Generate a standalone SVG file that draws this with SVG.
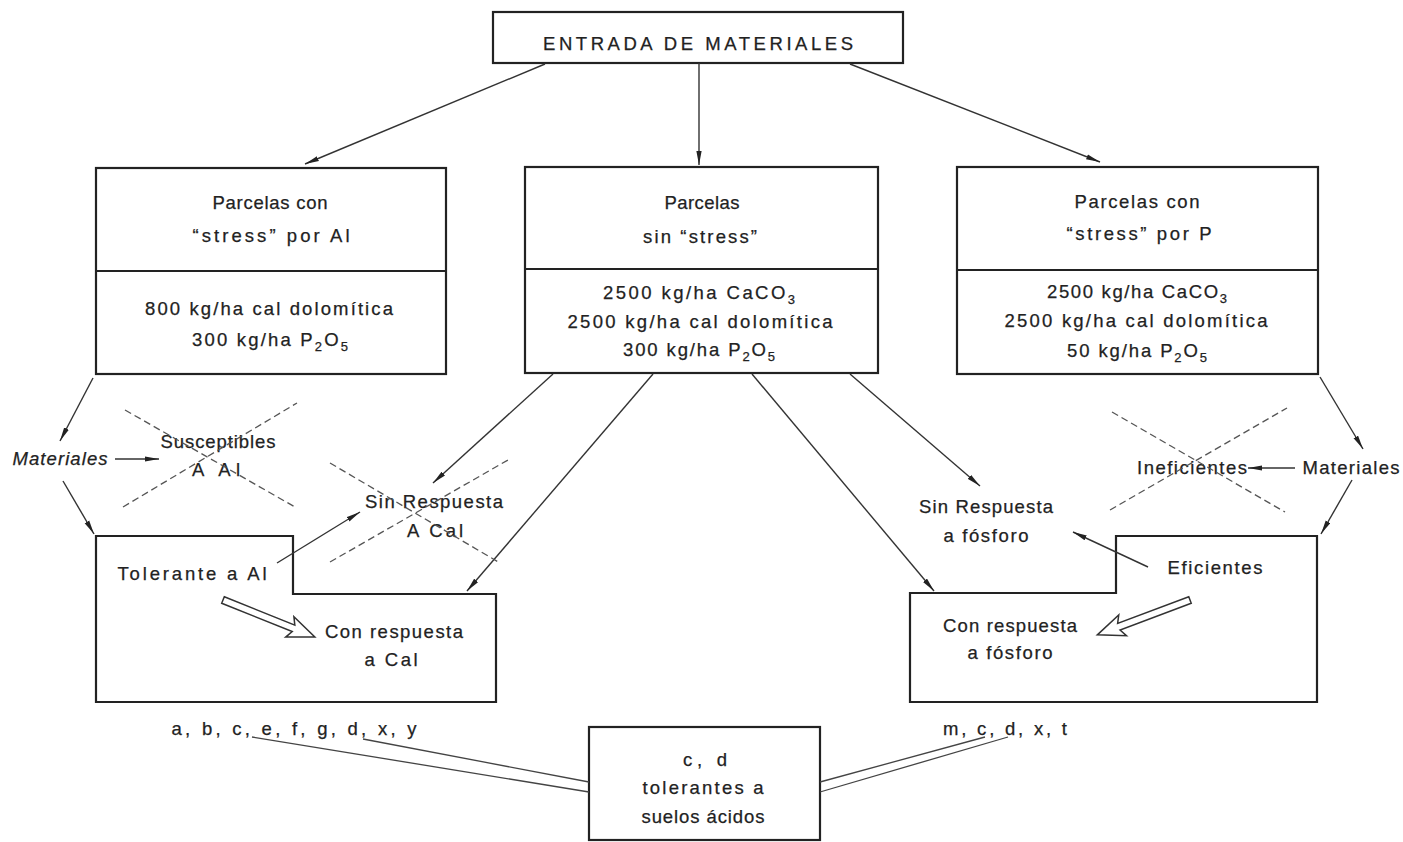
<svg xmlns="http://www.w3.org/2000/svg" width="1403" height="842" viewBox="0 0 1403 842">
<style>
.box{fill:#fff;stroke:#222;stroke-width:2.2}
.div{stroke:#222;stroke-width:2}
.t{font-family:"Liberation Sans",Arial,sans-serif;font-size:18.5px;fill:#222;text-anchor:middle;stroke:#222;stroke-width:0.25}
.ti{font-style:italic}
.c{stroke:#333;stroke-width:1.4;fill:none;marker-end:url(#ah)}
.d{stroke:#555;stroke-width:1.3;stroke-dasharray:7,4;fill:none}
.dl{stroke:#444;stroke-width:1.3;fill:none}
.ha{fill:#fff;stroke:#333;stroke-width:1.5}
.sub{font-size:13px}
</style>
<defs>
<marker id="ah" viewBox="0 0 14 6" refX="14" refY="3" markerWidth="14" markerHeight="6" markerUnits="userSpaceOnUse" orient="auto">
<path d="M0,0.4 L14,3 L0,5.6 Z" fill="#222"/>
</marker>
</defs>
<rect width="1403" height="842" fill="#fff"/>

<g id="entrada">
<rect class="box" x="493" y="12" width="410" height="51"/>
<text class="t" x="698" y="50" font-size="17.5" textLength="310" lengthAdjust="spacing">ENTRADA DE MATERIALES</text>
</g>

<g id="parcelas-al">
<rect class="box" x="96" y="168" width="350" height="206"/>
<line class="div" x1="96" y1="271" x2="446" y2="271"/>
<text class="t" x="270" y="209" textLength="115" lengthAdjust="spacing">Parcelas con</text>
<text class="t" x="271" y="242" textLength="157" lengthAdjust="spacing">“stress”  por  Al</text>
<text class="t" x="269" y="315" textLength="248" lengthAdjust="spacing">800 kg/ha  cal  dolomítica</text>
<text class="t" x="270" y="346" textLength="156" lengthAdjust="spacing">300 kg/ha  P<tspan class="sub" dy="5">2</tspan><tspan dy="-5">O</tspan><tspan class="sub" dy="5">5</tspan></text>
</g>

<g id="parcelas-sin">
<rect class="box" x="525" y="167" width="353" height="206"/>
<line class="div" x1="525" y1="269" x2="878" y2="269"/>
<text class="t" x="702" y="209" textLength="75" lengthAdjust="spacing">Parcelas</text>
<text class="t" x="700" y="243" textLength="114" lengthAdjust="spacing">sin  “stress”</text>
<text class="t" x="699" y="299" textLength="192" lengthAdjust="spacing">2500  kg/ha  CaCO<tspan class="sub" dy="5">3</tspan></text>
<text class="t" x="700" y="328" textLength="265" lengthAdjust="spacing">2500 kg/ha  cal  dolomítica</text>
<text class="t" x="699" y="356" textLength="152" lengthAdjust="spacing">300 kg/ha P<tspan class="sub" dy="5">2</tspan><tspan dy="-5">O</tspan><tspan class="sub" dy="5">5</tspan></text>
</g>

<g id="parcelas-p">
<rect class="box" x="957" y="167" width="361" height="207"/>
<line class="div" x1="957" y1="270" x2="1318" y2="270"/>
<text class="t" x="1137" y="208" textLength="125" lengthAdjust="spacing">Parcelas  con</text>
<text class="t" x="1139" y="240" textLength="145" lengthAdjust="spacing">“stress”  por  P</text>
<text class="t" x="1137" y="298" textLength="180" lengthAdjust="spacing">2500 kg/ha CaCO<tspan class="sub" dy="5">3</tspan></text>
<text class="t" x="1136" y="327" textLength="263" lengthAdjust="spacing">2500 kg/ha  cal  dolomítica</text>
<text class="t" x="1137" y="357" textLength="140" lengthAdjust="spacing">50 kg/ha P<tspan class="sub" dy="5">2</tspan><tspan dy="-5">O</tspan><tspan class="sub" dy="5">5</tspan></text>
</g>

<g id="materiales-izq">
<text class="t ti" x="60" y="465" textLength="95" lengthAdjust="spacing">Materiales</text>
</g>
<g id="susceptibles">
<text class="t" x="218" y="448" textLength="115" lengthAdjust="spacing">Susceptibles</text>
<text class="t" x="216" y="476" textLength="48" lengthAdjust="spacing">A  Al</text>
</g>
<g id="sin-respuesta-cal">
<text class="t" x="434" y="508" textLength="138" lengthAdjust="spacing">Sin  Respuesta</text>
<text class="t" x="435" y="537" textLength="56" lengthAdjust="spacing">A  Cal</text>
</g>
<g id="tolerante">
<path class="box" d="M96,536 H293 V594 H496 V702 H96 Z"/>
<text class="t" x="192" y="580" textLength="149" lengthAdjust="spacing">Tolerante  a  Al</text>
<text class="t" x="394" y="638" textLength="138" lengthAdjust="spacing">Con  respuesta</text>
<text class="t" x="391" y="666" textLength="53" lengthAdjust="spacing">a  Cal</text>
</g>

<g id="ineficientes">
<text class="t" x="1192" y="474" textLength="110" lengthAdjust="spacing">Ineficientes</text>
</g>
<g id="materiales-der">
<text class="t" x="1351" y="474" textLength="97" lengthAdjust="spacing">Materiales</text>
</g>
<g id="sin-respuesta-p">
<text class="t" x="986" y="513" textLength="134" lengthAdjust="spacing">Sin Respuesta</text>
<text class="t" x="986" y="542" textLength="85" lengthAdjust="spacing">a fósforo</text>
</g>
<g id="eficientes">
<path class="box" d="M910,593 H1116 V536 H1317 V702 H910 Z"/>
<text class="t" x="1215" y="574" textLength="95" lengthAdjust="spacing">Eficientes</text>
<text class="t" x="1010" y="632" textLength="134" lengthAdjust="spacing">Con respuesta</text>
<text class="t" x="1010" y="659" textLength="85" lengthAdjust="spacing">a fósforo</text>
</g>

<g id="lista-cal">
<text class="t" x="294" y="735" textLength="245" lengthAdjust="spacing">a,  b,  c,  e,  f,  g,  d,  x,  y</text>
</g>
<g id="lista-p">
<text class="t" x="1005" y="735" textLength="124" lengthAdjust="spacing">m,  c,  d, x, t</text>
</g>
<g id="tolerantes-acidos">
<rect class="box" x="589" y="727" width="231" height="113"/>
<text class="t" x="705" y="766" textLength="44" lengthAdjust="spacing">c,  d</text>
<text class="t" x="703" y="794" textLength="121" lengthAdjust="spacing">tolerantes  a</text>
<text class="t" x="703" y="823" textLength="123" lengthAdjust="spacing">suelos ácidos</text>
</g>

<g id="connectors">
<line class="c" x1="545" y1="64" x2="305" y2="164"/>
<line class="c" x1="699" y1="63" x2="699" y2="165"/>
<line class="c" x1="850" y1="64" x2="1100" y2="162"/>
<line class="c" x1="93" y1="378" x2="60" y2="441"/>
<line class="c" x1="115" y1="459" x2="159" y2="459"/>
<line class="c" x1="63" y1="481" x2="94" y2="534"/>
<line class="c" x1="277" y1="563" x2="360" y2="512"/>
<line class="c" x1="553" y1="374" x2="433" y2="483"/>
<line class="c" x1="653" y1="374" x2="467" y2="591"/>
<line class="c" x1="752" y1="374" x2="934" y2="591"/>
<line class="c" x1="850" y1="374" x2="980" y2="486"/>
<line class="c" x1="1320" y1="377" x2="1363" y2="449"/>
<line class="c" x1="1295" y1="468" x2="1248" y2="468"/>
<line class="c" x1="1352" y1="480" x2="1321" y2="534"/>
<line class="c" x1="1148" y1="567" x2="1073" y2="532"/>
<line class="d" x1="125" y1="410" x2="295" y2="507"/>
<line class="d" x1="123" y1="507" x2="297" y2="403"/>
<line class="d" x1="330" y1="463" x2="500" y2="563"/>
<line class="d" x1="330" y1="562" x2="508" y2="460"/>
<line class="d" x1="1112" y1="412" x2="1285" y2="512"/>
<line class="d" x1="1110" y1="510" x2="1287" y2="408"/>
<line class="dl" x1="252" y1="737" x2="589" y2="792"/>
<line class="dl" x1="363" y1="739" x2="589" y2="782"/>
<line class="dl" x1="820" y1="782" x2="985" y2="737"/>
<line class="dl" x1="820" y1="792" x2="1008" y2="737"/>
<polygon class="ha" transform="translate(223,600) rotate(21.9)" points="0,-3.5 76,-3.5 72,-11 99,0 72,11 76,3.5 0,3.5"/>
<polygon class="ha" transform="translate(1190,600) rotate(159.4)" points="0,-3.5 76,-3.5 72,-11 99,0 72,11 76,3.5 0,3.5"/>
</g>
</svg>
